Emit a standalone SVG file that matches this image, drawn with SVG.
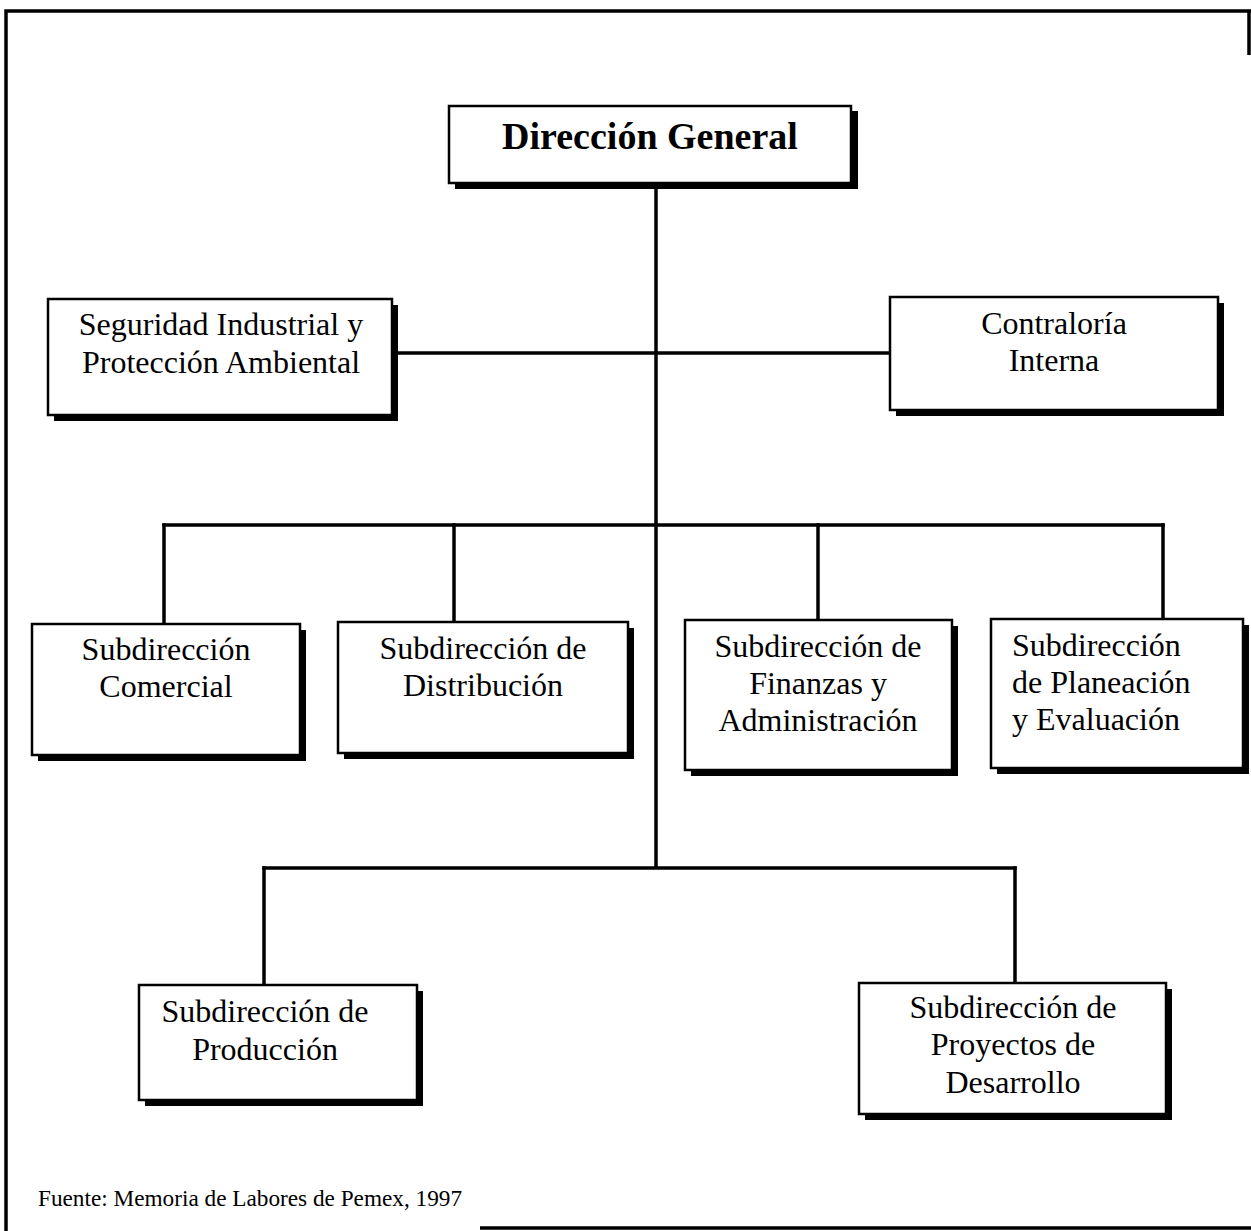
<svg xmlns="http://www.w3.org/2000/svg" width="1251" height="1231" viewBox="0 0 1251 1231">
  <style>
    .box { fill: #fff; stroke: #000; stroke-width: 2.5; }
    .shadow { fill: #000; }
    .lbl { font-family: "Liberation Serif", "Times New Roman", serif; font-size: 32px; fill: #000; text-anchor: middle; }
    .lbl-left { font-family: "Liberation Serif", "Times New Roman", serif; font-size: 32px; fill: #000; text-anchor: start; }
    .title { font-family: "Liberation Serif", "Times New Roman", serif; font-size: 38px; font-weight: bold; fill: #000; text-anchor: middle; }
    .src { font-family: "Liberation Serif", "Times New Roman", serif; font-size: 23px; fill: #000; }
    .conn { stroke: #000; stroke-width: 3.5; fill: none; stroke-linecap: square; }
    .frame { stroke: #000; stroke-width: 3.5; fill: none; }
  </style>

  <rect x="0" y="0" width="1251" height="1231" fill="#fff"/>

  <!-- page frame -->
  <g id="frame">
    <polyline class="frame" points="6,1231 6,11 1251,11"/>
    <line class="frame" x1="1249" y1="11" x2="1249" y2="55" stroke-width="2"/>
    <line class="frame" x1="480" y1="1228" x2="1251" y2="1228" stroke-width="2"/>
  </g>

  <!-- connectors -->
  <g id="connectors">
    <line class="conn" x1="656" y1="188" x2="656" y2="866"/>
    <line class="conn" x1="394" y1="353" x2="890" y2="353"/>
    <line class="conn" x1="164" y1="525" x2="1163" y2="525"/>
    <line class="conn" x1="164" y1="525" x2="164" y2="623"/>
    <line class="conn" x1="454" y1="525" x2="454" y2="621"/>
    <line class="conn" x1="818" y1="525" x2="818" y2="619"/>
    <line class="conn" x1="1163" y1="525" x2="1163" y2="618"/>
    <line class="conn" x1="264" y1="868" x2="1015" y2="868"/>
    <line class="conn" x1="264" y1="868" x2="264" y2="984"/>
    <line class="conn" x1="1015" y1="868" x2="1015" y2="982"/>
  </g>

  <!-- Dirección General -->
  <g id="direccion-general">
    <rect class="shadow" x="455" y="111" width="403" height="78"/>
    <rect class="box" x="449" y="106" width="402" height="77"/>
    <text class="title" x="650" y="149">Dirección General</text>
  </g>

  <g id="seguridad">
    <rect class="shadow" x="54" y="305" width="344" height="116"/>
    <rect class="box" x="48" y="299" width="344" height="116"/>
    <text class="lbl" x="221" y="335">Seguridad Industrial y</text>
    <text class="lbl" x="221" y="373">Protección Ambiental</text>
  </g>

  <g id="contraloria">
    <rect class="shadow" x="896" y="303" width="328" height="113"/>
    <rect class="box" x="890" y="297" width="328" height="113"/>
    <text class="lbl" x="1054" y="334">Contraloría</text>
    <text class="lbl" x="1054" y="371">Interna</text>
  </g>

  <g id="comercial">
    <rect class="shadow" x="38" y="630" width="268" height="131"/>
    <rect class="box" x="32" y="624" width="268" height="131"/>
    <text class="lbl" x="166" y="660">Subdirección</text>
    <text class="lbl" x="166" y="697">Comercial</text>
  </g>

  <g id="distribucion">
    <rect class="shadow" x="344" y="628" width="290" height="131"/>
    <rect class="box" x="338" y="622" width="290" height="131"/>
    <text class="lbl" x="483" y="659">Subdirección de</text>
    <text class="lbl" x="483" y="696">Distribución</text>
  </g>

  <g id="finanzas">
    <rect class="shadow" x="691" y="626" width="267" height="150"/>
    <rect class="box" x="685" y="620" width="267" height="150"/>
    <text class="lbl" x="818" y="657">Subdirección de</text>
    <text class="lbl" x="818" y="694">Finanzas y</text>
    <text class="lbl" x="818" y="731">Administración</text>
  </g>

  <g id="planeacion">
    <rect class="shadow" x="997" y="625" width="252" height="149"/>
    <rect class="box" x="991" y="619" width="252" height="149"/>
    <text class="lbl-left" x="1012" y="656">Subdirección</text>
    <text class="lbl-left" x="1012" y="693">de Planeación</text>
    <text class="lbl-left" x="1012" y="730">y Evaluación</text>
  </g>

  <g id="produccion">
    <rect class="shadow" x="145" y="991" width="278" height="115"/>
    <rect class="box" x="139" y="985" width="278" height="115"/>
    <text class="lbl" x="265" y="1022">Subdirección de</text>
    <text class="lbl" x="265" y="1060">Producción</text>
  </g>

  <g id="proyectos">
    <rect class="shadow" x="865" y="989" width="307" height="131"/>
    <rect class="box" x="859" y="983" width="307" height="131"/>
    <text class="lbl" x="1013" y="1018">Subdirección de</text>
    <text class="lbl" x="1013" y="1055">Proyectos de</text>
    <text class="lbl" x="1013" y="1093">Desarrollo</text>
  </g>

  <text class="src" x="38" y="1206" textLength="424" lengthAdjust="spacingAndGlyphs">Fuente: Memoria de Labores de Pemex, 1997</text>
</svg>
